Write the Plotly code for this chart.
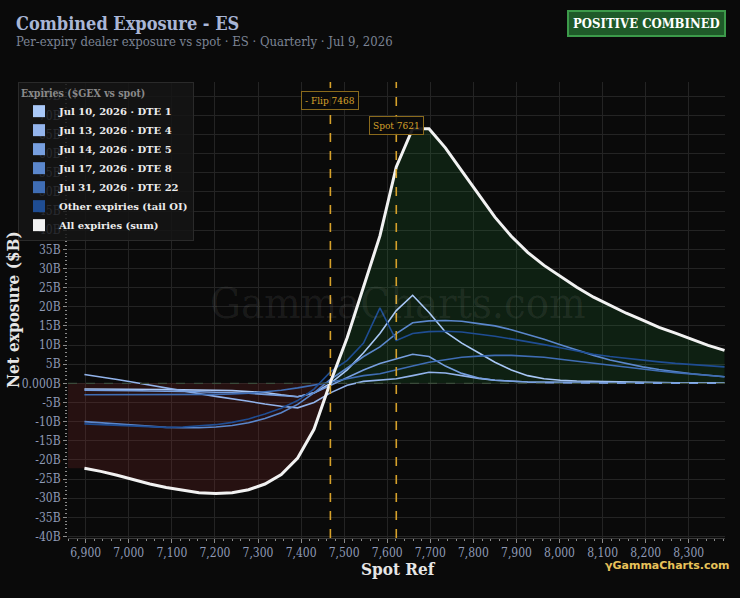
import plotly.graph_objects as go

# ---------------- data ----------------
SPOT = 7621
FLIP = 7468
X_SPOT = [6897, 6935, 6973, 7011, 7049, 7087, 7125, 7163, 7202, 7240,
          7278, 7316, 7354, 7392, 7430, 7468, 7507, 7545, 7583, 7621,
          7659, 7697, 7735, 7773, 7812, 7850, 7888, 7926, 7964, 8002,
          8040, 8079, 8117, 8155, 8193, 8231, 8269, 8307, 8345, 8383]

DTE1 = [-1.5, -1.5, -1.5, -1.6, -1.6, -1.6, -1.7, -1.7, -1.8, -1.9,
        -2.1, -2.4, -3.0, -3.5, -2.5, 0.0, 3.5, 8.0, 13.0, 19.0,
        23.0, 18.5, 13.4, 10.5, 8.0, 5.5, 3.5, 2.0, 1.2, 0.8,
        0.6, 0.5, 0.4, 0.3, 0.25, 0.2, 0.15, 0.12, 0.1, 0.08]
DTE4 = [2.3, 1.7, 1.0, 0.3, -0.5, -1.2, -2.0, -2.7, -3.4, -4.0,
        -4.7, -5.4, -6.0, -6.4, -5.0, -2.5, -0.5, 0.5, 0.8, 1.2,
        2.0, 2.9, 2.7, 2.0, 1.3, 0.8, 0.5, 0.35, 0.25, 0.2,
        0.15, 0.12, 0.1, 0.08, 0.06, 0.05, 0.04, 0.03, 0.02, 0.02]
DTE5 = [-1.8, -1.8, -1.9, -1.9, -2.0, -2.0, -2.1, -2.2, -2.3, -2.4,
        -2.6, -2.9, -3.2, -3.5, -2.5, -0.5, 1.5, 3.5, 5.2, 6.5,
        7.6, 7.0, 4.5, 2.6, 1.4, 0.8, 0.5, 0.35, 0.25, 0.2,
        0.15, 0.12, 0.1, 0.08, 0.06, 0.05, 0.04, 0.03, 0.03, 0.02]
DTE8 = [-10.0, -10.3, -10.7, -11.0, -11.3, -11.5, -11.6, -11.6, -11.4, -11.0,
        -10.3, -9.2, -7.7, -5.5, -2.5, 1.0, 4.0, 7.0, 9.5, 13.0,
        15.8, 16.3, 16.4, 16.2, 15.6, 15.0, 14.0, 12.8, 11.5, 10.1,
        8.7, 7.3, 6.1, 5.1, 4.3, 3.6, 3.0, 2.5, 2.1, 1.7]
DTE22 = [-3.0, -3.0, -3.0, -3.0, -3.0, -3.0, -3.0, -3.0, -2.9, -2.8,
         -2.6, -2.2, -1.8, -1.2, -0.5, 0.3, 1.2, 2.0, 2.5, 3.4,
         4.5, 5.5, 6.2, 6.8, 7.1, 7.3, 7.3, 7.1, 6.8, 6.3,
         5.8, 5.2, 4.6, 4.1, 3.6, 3.2, 2.8, 2.4, 2.0, 1.7]
OTHER = [-10.6, -10.8, -11.0, -11.2, -11.4, -11.5, -11.4, -11.2, -10.8, -10.2,
         -9.3, -8.0, -6.5, -4.5, -1.5, 3.0, 6.0, 10.5, 19.7, 11.2,
         13.0, 13.5, 13.6, 13.4, 12.9, 12.3, 11.6, 10.9, 10.1, 9.3,
         8.4, 7.6, 7.0, 6.5, 6.0, 5.6, 5.2, 4.9, 4.6, 4.3]
TOTAL = [-22.2, -23.0, -24.0, -25.2, -26.3, -27.2, -27.9, -28.6, -28.8, -28.6,
         -27.8, -26.3, -23.8, -19.5, -12.0, 0.3, 11.9, 24.9, 38.5, 56.5,
         66.5, 66.5, 61.5, 55.5, 49.4, 43.4, 38.4, 34.2, 30.8, 28.0,
         25.1, 22.5, 20.4, 18.3, 16.5, 14.6, 13.1, 11.5, 9.9, 8.6]

SERIES_NAMES = ["Jul 10, 2026 · DTE 1", "Jul 13, 2026 · DTE 4", "Jul 14, 2026 · DTE 5",
                "Jul 17, 2026 · DTE 8", "Jul 31, 2026 · DTE 22", "Other expiries (tail OI)"]
SERIES_VALUES = [DTE1, DTE4, DTE5, DTE8, DTE22, OTHER]
SERIES_COLORS = ["#a9c8f7", "#93b4ec", "#779fdf", "#5b87cc", "#3f6db4", "#1f4d93"]

Y_TICKS = [-40, -35, -30, -25, -20, -15, -10, -5, 0, 5, 10, 15, 20, 25, 30, 35,
           40, 45, 50, 55, 60, 65, 70, 75]
Y_TICKTEXT = ["0.000B" if v == 0 else f"{v}B" for v in Y_TICKS]

X_RANGE = [SPOT * 0.9, SPOT * 1.1 + 1]
Y_RANGE = [-40.4, 78.7]

SERIF = "DejaVu Serif Condensed, DejaVu Serif, serif"

# -------------- helpers -------------
W, H = 740, 598
L, R, T, B = 68, 15, 82, 60
PW, PH = W - L - R, H - T - B


def px(xp):
    return (xp - L) / PW


def py(yp):
    return (H - B - yp) / PH


def split_fill(xs, ys, positive):
    ox, oy = [], []
    for i in range(len(xs)):
        if i > 0 and (ys[i - 1] > 0) != (ys[i] > 0):
            x0, x1, y0, y1 = xs[i - 1], xs[i], ys[i - 1], ys[i]
            xc = x0 + (x1 - x0) * (0 - y0) / (y1 - y0)
            ox.append(xc)
            oy.append(0)
        v = ys[i]
        ox.append(xs[i])
        oy.append(max(v, 0) if positive else min(v, 0))
    return ox, oy


fig = go.Figure()

fx = [X_RANGE[0]] + X_SPOT
fy = [TOTAL[0]] + TOTAL
nx, ny = split_fill(fx, fy, False)
pxs, pys = split_fill(fx, fy, True)
fig.add_trace(go.Scatter(x=nx, y=ny, mode="lines", line=dict(width=0),
                         fill="tozeroy", fillcolor="rgba(150,45,45,0.20)",
                         hoverinfo="skip", showlegend=False))
fig.add_trace(go.Scatter(x=pxs, y=pys, mode="lines", line=dict(width=0),
                         fill="tozeroy", fillcolor="rgba(40,150,60,0.16)",
                         hoverinfo="skip", showlegend=False))

for name, vals, col in zip(SERIES_NAMES, SERIES_VALUES, SERIES_COLORS):
    fig.add_trace(go.Scatter(x=X_SPOT, y=vals, mode="lines", name=name,
                             line=dict(color=col, width=1.6), showlegend=False))
fig.add_trace(go.Scatter(x=X_SPOT, y=TOTAL, mode="lines", name="All expiries (sum)",
                         line=dict(color="#f2f2f2", width=3), showlegend=False))

# legend entries (square swatches)
for name, col in zip(SERIES_NAMES + ["All expiries (sum)"], SERIES_COLORS + ["#f2f2f2"]):
    fig.add_trace(go.Scatter(x=[None], y=[None], mode="markers", name=name,
                             marker=dict(symbol="square", size=9, color=col)))

# zero line
fig.add_hline(y=0, line=dict(color="#3a4a3a", width=1.2, dash="dash"))
# flip / spot lines
for xv in (FLIP, SPOT):
    fig.add_vline(x=xv, line=dict(color="#d6a12a", width=1.6, dash="dash"))


def note(x, y, text, font, xref="paper", xanchor="center", **kw):
    d = dict(x=x, y=y, xref=xref, yref="paper", text=text, showarrow=False,
             xanchor=xanchor, yanchor="middle", font=font)
    d.update(kw)
    return d


gold = dict(family=SERIF, size=10, color="#d6a12a")
ann = [
    note(FLIP, py(100), "- Flip 7468", gold, xref="x",
         bgcolor="rgba(10,10,10,0.9)", bordercolor="#8a6a1c", borderwidth=1, borderpad=3),
    note(SPOT, py(126), "Spot 7621", gold, xref="x",
         bgcolor="rgba(10,10,10,0.9)", bordercolor="#8a6a1c", borderwidth=1, borderpad=3),
    note(px(14), py(23), "<b>Combined Exposure - ES</b>",
         dict(family=SERIF, size=18, color="#a9b6d6"), xanchor="left"),
    note(px(14), py(41), "Per-expiry dealer exposure vs spot · ES · Quarterly · Jul 9, 2026",
         dict(family=SERIF, size=13, color="#7c8494"), xanchor="left"),
    note(px(646), py(24), "<b>POSITIVE COMBINED</b>",
         dict(family=SERIF, size=13, color="#ffffff"),
         bgcolor="#1f5a29", bordercolor="#3c9a4a", borderwidth=2, borderpad=4),
    note(px(398), py(303), "GammaCharts.com",
         dict(family=SERIF, size=43, color="rgba(255,255,255,0.075)")),
    note(px(732), py(565), "<b>γGammaCharts.com</b>",
         dict(family="DejaVu Sans, sans-serif", size=11, color="#e8c25a"), xanchor="right"),
    note(px(398), py(569), "<b>Spot Ref</b>",
         dict(family=SERIF, size=17, color="#e6e6e6")),
    note(px(13), py(310), "<b>Net exposure ($B)</b>",
         dict(family=SERIF, size=17, color="#e6e6e6"), textangle=-90),
]
fig.update_layout(annotations=ann)

axis_common = dict(showgrid=True, gridcolor="#242424", gridwidth=1, zeroline=False,
                   ticks="outside", ticklen=4, tickcolor="#8a8a8a",
                   tickfont=dict(family=SERIF, size=12, color="#8f9ab6"))
fig.update_xaxes(range=X_RANGE, dtick=100, tick0=6900, tickformat=",d", tickangle=0,
                 showline=True, linecolor="#3a3a3a",
                 minor=dict(dtick=20, ticks="outside", ticklen=2, tickcolor="#8a8a8a", showgrid=False),
                 **axis_common)
fig.update_yaxes(range=Y_RANGE, tickvals=Y_TICKS, ticktext=Y_TICKTEXT,
                 minor=dict(dtick=1, ticks="outside", ticklen=2, tickcolor="#8a8a8a", showgrid=False),
                 **axis_common)

fig.update_layout(
    width=W, height=H,
    margin=dict(l=L, r=R, t=T, b=B, autoexpand=False),
    paper_bgcolor="#0a0a0a", plot_bgcolor="#0a0a0a",
    legend=dict(xref="container", yref="container", x=18 / W, y=1 - 82 / H,
                xanchor="left", yanchor="top",
                bgcolor="rgba(22,22,22,0.84)", bordercolor="#2a2a2a", borderwidth=1,
                title=dict(text="Expiries ($GEX vs spot)", font=dict(family=SERIF, size=10.5, color="#8a8a8a")),
                font=dict(family="DejaVu Serif, serif", size=10, color="#ececec", weight="bold"),
                itemsizing="constant", itemwidth=30),
    hovermode=False,
)

fig.write_html("out.html")
